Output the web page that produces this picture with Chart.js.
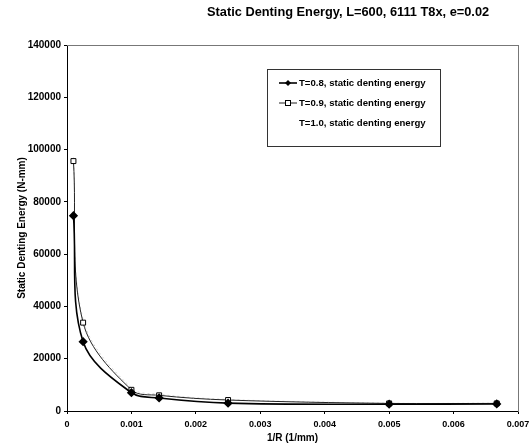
<!DOCTYPE html>
<html>
<head>
<meta charset="utf-8">
<script src="https://cdn.jsdelivr.net/npm/chart.js@4/dist/chart.umd.min.js"></script>
<style>
  html, body { margin: 0; padding: 0; background: #fff; overflow: hidden; }
  #wrap { position: relative; width: 548px; height: 448px; }
  #title {
    position: absolute; left: 207px; top: 4px; width: 300px;
    font: bold 12.8px 'Liberation Sans', Arial, sans-serif; color: #000; white-space: nowrap;
  }
</style>
</head>
<body>
<div id="wrap">
  <canvas id="chart" width="548" height="448"></canvas>
  <div id="title">Static Denting Energy, L=600, 6111 T8x, e=0.02</div>
</div>
<script>
// 1/R values (1/mm)
const invR = [0.0001, 0.00025, 0.001, 0.00143, 0.0025, 0.005, 0.00667];
// static denting energy (N-mm)
const energyT08 = [74700, 26500, 7000, 5000, 3000, 2600, 2700];
const energyT09 = [95600, 33800, 8100, 6000, 4200, 2900, 2900];
const energyT10 = [97000, 35000, 8800, 6400, 4400, 3000, 3000];
const seriesLabels = [
  'T=0.8, static denting energy',
  'T=0.9, static denting energy',
  'T=1.0, static denting energy',
];
const FONT = "'Liberation Sans', Arial, sans-serif";

function toPoints(xs, ys) {
  return xs.map((x, i) => ({ x, y: ys[i] }));
}

// legend box drawn inside the plot (Excel style)
const boxLegend = {
  id: 'boxLegend',
  afterDraw(chart) {
    const { ctx, chartArea } = chart;
    const left = chartArea.left + 200, top = chartArea.top + 24;
    const w = 173, h = 77;
    ctx.save();
    ctx.strokeStyle = '#333';
    ctx.lineWidth = 1;
    ctx.strokeRect(left + 0.5, top + 0.5, w, h);
    ctx.font = 'bold 9.6px ' + FONT;
    ctx.textBaseline = 'middle';
    ctx.fillStyle = '#000';
    chart.data.datasets.forEach((ds, i) => {
      const y = top + 14 + i * 20;
      if (ds.legendLine) {
        ctx.strokeStyle = ds.borderColor;
        ctx.lineWidth = ds.borderWidth;
        ctx.beginPath();
        ctx.moveTo(left + 12, y);
        ctx.lineTo(left + 30, y);
        ctx.stroke();
        const mx = left + 21;
        if (ds.pointStyle === 'rectRot') {
          ctx.fillStyle = '#000';
          ctx.beginPath();
          ctx.moveTo(mx, y - 3); ctx.lineTo(mx + 3, y); ctx.lineTo(mx, y + 3); ctx.lineTo(mx - 3, y);
          ctx.closePath(); ctx.fill();
        } else if (ds.pointStyle === 'rect') {
          ctx.fillStyle = '#fff';
          ctx.fillRect(mx - 3, y - 3, 6, 6);
          ctx.lineWidth = 1;
          ctx.strokeStyle = '#000';
          ctx.strokeRect(mx - 2.5, y - 2.5, 5, 5);
        }
      }
      ctx.fillStyle = '#000';
      ctx.fillText(ds.label, left + 32, y);
    });
    ctx.restore();
  }
};

new Chart(document.getElementById('chart'), {
  type: 'line',
  data: {
    datasets: [
      {
        label: seriesLabels[0],
        data: toPoints(invR, energyT08),
        borderColor: '#000', borderWidth: 1.6, tension: 0.35,
        pointStyle: 'rectRot', pointRadius: 3.5, pointBackgroundColor: '#000', pointBorderColor: '#000',
        legendLine: true,
      },
      {
        label: seriesLabels[1],
        data: toPoints(invR, energyT09),
        borderColor: '#222', borderWidth: 1, tension: 0.35,
        pointStyle: 'rect', pointRadius: 3.5, pointBackgroundColor: '#fff', pointBorderColor: '#000', pointBorderWidth: 1,
        legendLine: true,
      },
      {
        label: seriesLabels[2],
        data: toPoints(invR, energyT10),
        borderColor: '#d4d4d4', borderWidth: 1, borderDash: [2, 3], tension: 0.35,
        pointRadius: 0,
        legendLine: false,
      },
    ],
  },
  options: {
    responsive: false,
    animation: false,
    layout: { padding: { top: 45, right: 0, left: 0, bottom: 0 } },
    plugins: { legend: { display: false }, tooltip: { enabled: false } },
    scales: {
      x: {
        type: 'linear', min: 0, max: 0.007,
        afterFit: s => { s.height = 37; },
        ticks: {
          stepSize: 0.001, color: '#000', padding: 5,
          font: { family: FONT, size: 9, weight: 'bold' },
          callback: v => (v === 0 ? '0' : v.toFixed(3)),
        },
        grid: { drawOnChartArea: false, tickLength: 3, color: '#000' },
        border: { color: '#000', width: 1 },
        title: { display: true, text: '1/R (1/mm)', color: '#000', padding: { top: 2 }, font: { family: FONT, size: 10, weight: 'bold' } },
      },
      y: {
        min: 0, max: 140000,
        afterFit: s => { s.width = 67; },
        ticks: {
          stepSize: 20000, color: '#000', padding: 3,
          font: { family: FONT, size: 10, weight: 'bold' },
          callback: v => String(v),
        },
        grid: { drawOnChartArea: false, tickLength: 3, color: '#000' },
        border: { color: '#000', width: 1 },
        title: { display: true, text: 'Static Denting Energy (N-mm)', color: '#000', padding: { top: 16, bottom: 0 }, font: { family: FONT, size: 10, weight: 'bold' } },
      },
      xTop: {
        type: 'linear', position: 'top', min: 0, max: 0.007,
        afterFit: s => { s.height = 0; },
        ticks: { display: false },
        grid: { display: false },
        border: { color: '#777', width: 1, dash: [6, 4] },
      },
      yRight: {
        position: 'right', min: 0, max: 140000,
        afterFit: s => { s.width = 30; },
        ticks: { display: false },
        grid: { display: false },
        border: { color: '#777', width: 1, dash: [2, 3] },
      },
    },
  },
  plugins: [boxLegend],
});
</script>
</body>
</html>
